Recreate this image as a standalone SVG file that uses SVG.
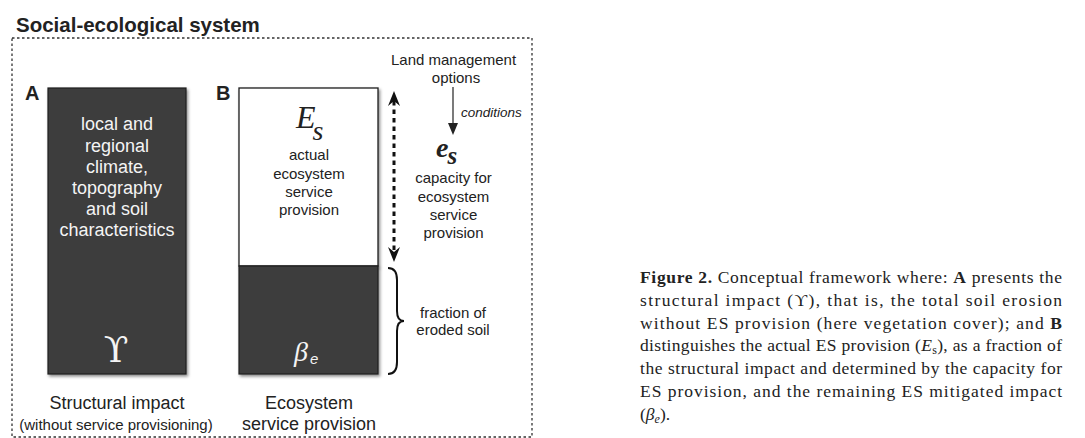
<svg xmlns="http://www.w3.org/2000/svg" width="1085" height="438" viewBox="0 0 1085 438">
<defs>
<style>
.sans{font-family:"Liberation Sans",Arial,sans-serif;fill:#222}
.wt{font-family:"Liberation Sans",Arial,sans-serif;fill:#f4f4f4;font-size:18px;text-anchor:middle}
.lbl{font-size:15px;text-anchor:middle}
.big{font-size:18px;text-anchor:middle}
.serif{font-family:"Liberation Serif","DejaVu Serif","Times New Roman",serif;fill:#222}
.cap{font-family:"Liberation Serif","DejaVu Serif","Times New Roman",serif;fill:#222;font-size:17.5px}
.dark{fill:#3c3c3c;stroke:#1e1e1e;stroke-width:1.2}
</style>
<filter id="sh" x="-10%" y="-10%" width="130%" height="130%">
<feDropShadow dx="1.5" dy="2" stdDeviation="1.5" flood-color="#000" flood-opacity="0.45"/>
</filter>
<marker id="stealth" viewBox="0 0 15 12" refX="5" refY="6" markerWidth="15" markerHeight="12" markerUnits="userSpaceOnUse" orient="auto-start-reverse">
<path d="M0,0 L15,6 L0,12 L5,6 Z" fill="#111"/>
</marker>
<marker id="tri" viewBox="0 0 12 10" refX="0" refY="5" markerWidth="12" markerHeight="10" markerUnits="userSpaceOnUse" orient="auto">
<path d="M0,0 L12,5 L0,10 Z" fill="#222"/>
</marker>
</defs>
<rect width="1085" height="438" fill="#fff"/>

<g id="title">
<text class="sans" x="16" y="32" font-size="20.5" font-weight="bold">Social-ecological system</text>
</g>

<g id="frame">
<rect x="12" y="38" width="520" height="399" fill="none" stroke="#333" stroke-width="1.3" stroke-dasharray="2.5 2.5"/>
</g>

<g id="boxA">
<text class="sans" x="25" y="100" font-size="20" font-weight="bold">A</text>
<rect class="dark" x="48" y="88" width="138" height="286" filter="url(#sh)"/>
<text class="wt" x="117" y="130">local and</text>
<text class="wt" x="117" y="151.5">regional</text>
<text class="wt" x="117" y="172.5">climate,</text>
<text class="wt" x="117" y="194">topography</text>
<text class="wt" x="117" y="215">and soil</text>
<text class="wt" x="117" y="236">characteristics</text>
<text x="116" y="362" font-family="'DejaVu Serif','Liberation Serif',serif" font-size="36" fill="#f4f4f4" text-anchor="middle">ϒ</text>
</g>

<g id="boxB">
<text class="sans" x="216" y="100" font-size="20" font-weight="bold">B</text>
<rect x="239" y="88" width="139" height="178" fill="#fff" stroke="#1e1e1e" stroke-width="1.3" filter="url(#sh)"/>
<rect class="dark" x="239" y="266" width="139" height="108" filter="url(#sh)"/>
<text class="serif" x="296" y="128" font-size="32" font-style="italic">E<tspan font-size="28" dx="-3" dy="12">s</tspan></text>
<text class="sans lbl" x="309" y="160">actual</text>
<text class="sans lbl" x="309" y="178.5">ecosystem</text>
<text class="sans lbl" x="309" y="197">service</text>
<text class="sans lbl" x="309" y="215">provision</text>
<text x="294" y="361" font-family="'Liberation Serif','Times New Roman',serif" font-size="28" font-style="italic" fill="#f4f4f4">β<tspan font-family="'Liberation Sans',Arial,sans-serif" font-size="15" dx="2" dy="3">e</tspan></text>
</g>

<g id="landmgmt">
<text class="sans lbl" x="453.5" y="65">Land management</text>
<text class="sans lbl" x="456" y="83">options</text>
</g>

<g id="capacity">
<text class="serif" x="436" y="157" font-size="28" font-style="italic" font-weight="bold">e<tspan font-size="25" dx="-1" dy="7">s</tspan></text>
<text class="sans lbl" x="453.5" y="183">capacity for</text>
<text class="sans lbl" x="453.5" y="202">ecosystem</text>
<text class="sans lbl" x="453.5" y="220">service</text>
<text class="sans lbl" x="453.5" y="238">provision</text>
</g>

<g id="eroded">
<text class="sans lbl" x="453" y="318">fraction of</text>
<text class="sans lbl" x="453" y="335">eroded soil</text>
</g>

<g id="connectors">
<line x1="394" y1="101" x2="394" y2="252" stroke="#111" stroke-width="3" stroke-dasharray="4.5 4" marker-start="url(#stealth)" marker-end="url(#stealth)"/>
<line x1="453" y1="87" x2="453" y2="123" stroke="#222" stroke-width="1.2" marker-end="url(#tri)"/>
<text class="sans" x="461" y="117" font-size="13.5" font-style="italic">conditions</text>
<path d="M388,268 Q397,268 397,280 L397,311 Q397,321 404,321 Q397,321 397,331 L397,362 Q397,374 388,374" fill="none" stroke="#111" stroke-width="2"/>
</g>

<g id="bottomlabels">
<text class="sans big" x="117" y="409">Structural impact</text>
<text class="sans lbl" x="116" y="430">(without service provisioning)</text>
<text class="sans big" x="309" y="409">Ecosystem</text>
<text class="sans big" x="309" y="430">service provision</text>
</g>

<g id="caption">
<text class="cap" x="640" y="283" textLength="422" lengthAdjust="spacing"><tspan font-weight="bold">Figure 2.</tspan> Conceptual framework where: <tspan font-weight="bold">A</tspan> presents the</text>
<text class="cap" x="640" y="305.8" textLength="422" lengthAdjust="spacing">structural impact (ϒ), that is, the total soil erosion</text>
<text class="cap" x="640" y="328.6" textLength="422" lengthAdjust="spacing">without ES provision (here vegetation cover); and <tspan font-weight="bold">B</tspan></text>
<text class="cap" x="640" y="351.4" textLength="422" lengthAdjust="spacing">distinguishes the actual ES provision (<tspan font-style="italic">E</tspan><tspan font-size="12" dy="3">s</tspan><tspan dy="-3">), as a fraction of</tspan></text>
<text class="cap" x="640" y="374.2" textLength="422" lengthAdjust="spacing">the structural impact and determined by the capacity for</text>
<text class="cap" x="640" y="397" textLength="422" lengthAdjust="spacing">ES provision, and the remaining ES mitigated impact</text>
<text class="cap" x="640" y="419.8">(<tspan font-style="italic">β</tspan><tspan font-size="12" font-style="italic" dy="3">e</tspan><tspan dy="-3">).</tspan></text>
</g>
</svg>
